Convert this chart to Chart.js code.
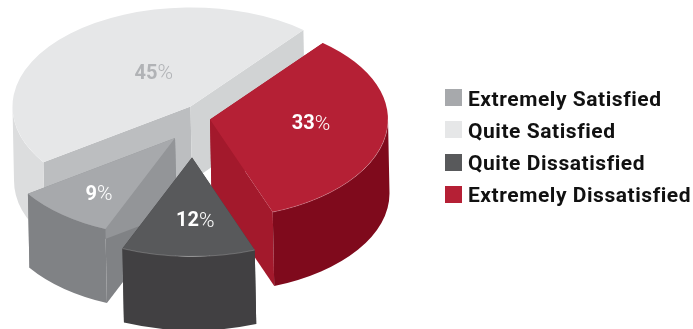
<!DOCTYPE html>
<html>
<head>
<meta charset="utf-8">
<title>Satisfaction</title>
<script src="https://cdn.jsdelivr.net/npm/chart.js@4/dist/chart.umd.js"></script>
<style>
    html, body { margin: 0; padding: 0; background: #fff; }
    #wrap { position: relative; width: 693px; height: 329px; overflow: hidden; }
    #pie { position: absolute; left: 0; top: 0; }
    #legend { position: absolute; left: 445px; top: 89px; margin: 0; padding: 0; list-style: none; }
    #legend li { display: flex; align-items: center; height: 17px; margin-bottom: 15.3px; white-space: nowrap;
        font: 700 21px Roboto, sans-serif; letter-spacing: 0.55px; color: #111; }
    #legend i { display: block; width: 17px; height: 17px; margin-right: 6px; }
    #legend span { position: relative; top: 1px; }
</style>
</head>
<body>
<div id="wrap">
    <canvas id="pie" width="693" height="329"></canvas>
    <ul id="legend"></ul>
</div>
<script>
    // slices go clockwise, the legend lists them in its own order
    const categories = ['Extremely Satisfied', 'Quite Satisfied', 'Extremely Dissatisfied', 'Quite Dissatisfied'];
    const values = [9, 45, 33, 12];
    const legendOrder = ['Extremely Satisfied', 'Quite Satisfied', 'Quite Dissatisfied', 'Extremely Dissatisfied'];

    const topColors = ['#a7a9ac', '#e6e7e8', '#b52035', '#58595b'];
    const rimColors = ['#808285', '#dcddde', '#7f0a1c', '#414042'];
    const startFaceColors = ['#808285', '#bcbec0', '#a3192c', '#414042'];
    const endFaceColors = ['#939598', '#d1d3d4', '#a3192c', '#414042'];
    const labelColors = ['#fff', '#b1b3b6', '#fff', '#fff'];

    // Fakes the tilted, pulled-apart pie on top of the arcs the pie controller lays out
    const tiltedPie = {
        id: 'tiltedPie',
        beforeDatasetDraw(chart, args, opts) {
            const ctx = chart.ctx;
            const arcs = chart.getDatasetMeta(0).data;
            const rx = chart.chartArea.width / 2;
            const ry = rx * opts.tilt;
            const [dx, dy] = opts.depth;

            const slices = arcs.map((arc, i) => {
                const p = arc.getProps(['x', 'y', 'startAngle', 'endAngle', 'outerRadius'], true);
                const mid = (p.startAngle + p.endAngle) / 2;
                return { arc, i, p, mid, ox: p.x + opts.explode[i][0], oy: p.y + opts.explode[i][1] };
            });

            // back slices first
            slices.sort((a, b) => Math.sin(a.mid) - Math.sin(b.mid));

            slices.forEach(s => {
                const { ox, oy, p, i } = s;
                const wall = (angle, color) => {
                    const ex = ox + rx * Math.cos(angle);
                    const ey = oy + ry * Math.sin(angle);
                    ctx.beginPath();
                    ctx.moveTo(ox, oy);
                    ctx.lineTo(ex, ey);
                    ctx.lineTo(ex + dx, ey + dy);
                    ctx.lineTo(ox + dx, oy + dy);
                    ctx.closePath();
                    ctx.fillStyle = color;
                    ctx.fill();
                };
                wall(p.startAngle, startFaceColors[i]);
                wall(p.endAngle, endFaceColors[i]);

                // outer wall, only the part that faces front (angles 0..PI, with wrap)
                const turn = Math.PI * 2;
                const k = Math.floor(p.startAngle / turn);
                const from = Math.max(p.startAngle, k * turn);
                const to = Math.min(p.endAngle, k * turn + Math.PI);
                const ranges = [[from, to], [Math.max(p.startAngle, (k + 1) * turn), Math.min(p.endAngle, (k + 1) * turn + Math.PI)]];
                ranges.forEach(([a0, a1]) => {
                    if (a1 <= a0) return;
                    ctx.beginPath();
                    ctx.ellipse(ox, oy, rx, ry, 0, a0, a1);
                    ctx.ellipse(ox + dx, oy + dy, rx, ry, 0, a1, a0, true);
                    ctx.closePath();
                    ctx.fillStyle = rimColors[i];
                    ctx.fill();
                });

                // top face is the library's own arc, squashed
                ctx.save();
                ctx.translate(ox, oy);
                ctx.scale(rx / p.outerRadius, ry / p.outerRadius);
                ctx.translate(-p.x, -p.y);
                s.arc.draw(ctx);
                ctx.restore();

                // pale seam along the front rim
                ranges.forEach(([a0, a1]) => {
                    if (a1 <= a0 || i < 2) return;
                    ctx.beginPath();
                    ctx.ellipse(ox, oy, rx, ry, 0, a0, a1);
                    ctx.strokeStyle = 'rgba(255,255,255,0.3)';
                    ctx.lineWidth = 0.7;
                    ctx.stroke();
                });
            });

            slices.forEach(s => {
                const [r, nudge] = opts.labelAt[s.i];
                const a = s.mid + nudge * Math.PI / 180;
                drawPercent(ctx, values[s.i], s.ox + rx * r * Math.cos(a), s.oy + ry * r * Math.sin(a), labelColors[s.i]);
            });
            return false;
        }
    };

    // bold number, thin percent sign
    function drawPercent(ctx, value, x, y, color) {
        const num = String(value);
        ctx.save();
        ctx.fillStyle = color;
        ctx.textBaseline = 'middle';
        ctx.textAlign = 'left';
        ctx.font = '700 20px Roboto, sans-serif';
        const w1 = ctx.measureText(num).width;
        ctx.font = '300 21px Roboto, sans-serif';
        const w2 = ctx.measureText('%').width;
        const left = x - (w1 + w2) / 2;
        ctx.font = '700 20px Roboto, sans-serif';
        ctx.fillText(num, left, y + 1);
        ctx.font = '300 21px Roboto, sans-serif';
        ctx.fillText('%', left + w1, y + 1);
        ctx.restore();
    }

    // legend as plain markup next to the canvas
    const htmlLegend = {
        id: 'htmlLegend',
        afterUpdate(chart) {
            const list = document.getElementById('legend');
            list.innerHTML = '';
            chart.options.plugins.legend.labels.generateLabels(chart)
                .sort((a, b) => legendOrder.indexOf(a.text) - legendOrder.indexOf(b.text))
                .forEach(item => {
                    const li = document.createElement('li');
                    const box = document.createElement('i');
                    const text = document.createElement('span');
                    box.style.background = item.fillStyle;
                    text.textContent = item.text;
                    li.appendChild(box);
                    li.appendChild(text);
                    list.appendChild(li);
                });
        }
    };

    new Chart(document.getElementById('pie').getContext('2d'), {
        type: 'pie',
        data: {
            labels: categories,
            datasets: [{
                data: values,
                backgroundColor: topColors,
                borderWidth: 0
            }]
        },
        options: {
            responsive: false,
            animation: false,
            rotation: 203,
            layout: { padding: { left: 14, right: 323, top: 0, bottom: 93 } },
            plugins: {
                legend: { display: false },
                tooltip: { enabled: false },
                tiltedPie: {
                    tilt: 0.556,
                    depth: [1.5, 74],
                    explode: [[-17, 20], [-1.5, -11.5], [18, 1.5], [0, 39.5]],
                    labelAt: [[0.709, -2.3], [0.4, 11.3], [0.569, -5.3], [0.636, -2.8]]
                }
            }
        },
        plugins: [tiltedPie, htmlLegend]
    });
</script>
</body>
</html>
